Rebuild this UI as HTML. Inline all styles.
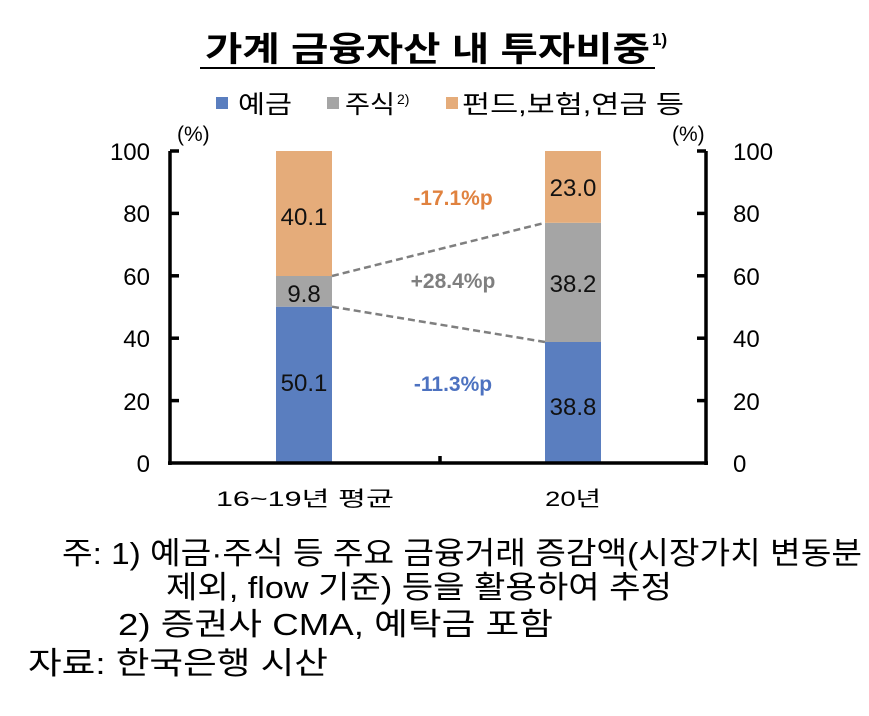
<!DOCTYPE html>
<html><head><meta charset="utf-8"><style>
html,body{margin:0;padding:0;background:#fff;}
svg{display:block;font-family:"Liberation Sans","Noto Sans CJK KR",sans-serif;}
</style></head><body>
<svg width="869" height="716" viewBox="0 0 869 716">
<text x="205" y="61" font-size="34" font-weight="bold" textLength="445" lengthAdjust="spacingAndGlyphs">가계 금융자산 내 투자비중</text>
<text x="652" y="45" font-size="17" font-weight="bold">1)</text>
<line x1="200" y1="68" x2="655" y2="68" stroke="#000" stroke-width="2"/>
<rect x="216" y="97" width="12" height="12" fill="#5a7ebf"/>
<text x="238" y="113" font-size="25" textLength="54" lengthAdjust="spacingAndGlyphs">예금</text>
<rect x="327" y="97" width="12" height="12" fill="#a5a5a5"/>
<text x="345" y="113" font-size="25" textLength="50" lengthAdjust="spacingAndGlyphs">주식</text>
<text x="397" y="104" font-size="14">2)</text>
<rect x="446" y="97" width="12" height="12" fill="#e5ac7a"/>
<text x="462" y="113" font-size="25" textLength="222" lengthAdjust="spacingAndGlyphs">펀드,보험,연금 등</text>
<text x="177" y="141" font-size="21">(%)</text>
<text x="672" y="141" font-size="21">(%)</text>
<rect x="276" y="306.7" width="56" height="156.3" fill="#5a7ebf"/>
<rect x="276" y="276" width="56" height="30.7" fill="#a5a5a5"/>
<rect x="276" y="151" width="56" height="125" fill="#e5ac7a"/>
<rect x="545" y="342" width="56" height="121" fill="#5a7ebf"/>
<rect x="545" y="222.8" width="56" height="119.2" fill="#a5a5a5"/>
<rect x="545" y="151" width="56" height="71.8" fill="#e5ac7a"/>
<g font-size="24" text-anchor="middle" fill="#111">
<text x="304" y="225">40.1</text>
<text x="304" y="302">9.8</text>
<text x="304" y="391">50.1</text>
<text x="573" y="196">23.0</text>
<text x="573" y="292">38.2</text>
<text x="573" y="415">38.8</text>
</g>
<line x1="332" y1="276" x2="545" y2="222.8" stroke="#7f7f7f" stroke-width="2.5" stroke-dasharray="7,4"/>
<line x1="332" y1="306.7" x2="545" y2="342" stroke="#7f7f7f" stroke-width="2.5" stroke-dasharray="7,4"/>
<g font-size="21" font-weight="bold" text-anchor="middle">
<text x="453" y="205" fill="#e0823f">-17.1%p</text>
<text x="453" y="288" fill="#7f7f7f">+28.4%p</text>
<text x="453" y="391" fill="#4d72c0">-11.3%p</text>
</g>
<g stroke="#000" stroke-width="3.5">
<line x1="170" y1="151" x2="170" y2="465"/>
<line x1="706" y1="151" x2="706" y2="465"/>
<line x1="168" y1="463" x2="708" y2="463"/>
<line x1="440" y1="456" x2="440" y2="463"/>
<line x1="170" y1="151" x2="179" y2="151"/><line x1="170" y1="213.4" x2="179" y2="213.4"/><line x1="170" y1="275.8" x2="179" y2="275.8"/><line x1="170" y1="338.2" x2="179" y2="338.2"/><line x1="170" y1="400.6" x2="179" y2="400.6"/>
<line x1="697" y1="151" x2="706" y2="151"/><line x1="697" y1="213.4" x2="706" y2="213.4"/><line x1="697" y1="275.8" x2="706" y2="275.8"/><line x1="697" y1="338.2" x2="706" y2="338.2"/><line x1="697" y1="400.6" x2="706" y2="400.6"/>
</g>
<g font-size="24" text-anchor="end">
<text x="150" y="160">100</text><text x="150" y="222">80</text><text x="150" y="285">60</text><text x="150" y="347">40</text><text x="150" y="410">20</text><text x="150" y="472">0</text>
</g>
<g font-size="24">
<text x="733" y="160">100</text><text x="733" y="222">80</text><text x="733" y="285">60</text><text x="733" y="347">40</text><text x="733" y="410">20</text><text x="733" y="472">0</text>
</g>
<text x="216" y="506" font-size="21" textLength="178" lengthAdjust="spacingAndGlyphs">16~19년 평균</text>
<text x="545" y="506" font-size="21" textLength="56" lengthAdjust="spacingAndGlyphs">20년</text>
<g font-size="31">
<text x="62" y="564" textLength="800" lengthAdjust="spacingAndGlyphs">주: 1) 예금·주식 등 주요 금융거래 증감액(시장가치 변동분</text>
<text x="166" y="598" textLength="506" lengthAdjust="spacingAndGlyphs">제외, flow 기준) 등을 활용하여 추정</text>
<text x="118" y="635" textLength="435" lengthAdjust="spacingAndGlyphs">2) 증권사 CMA, 예탁금 포함</text>
<text x="28" y="674" textLength="300" lengthAdjust="spacingAndGlyphs">자료: 한국은행 시산</text>
</g>
</svg>
</body></html>
